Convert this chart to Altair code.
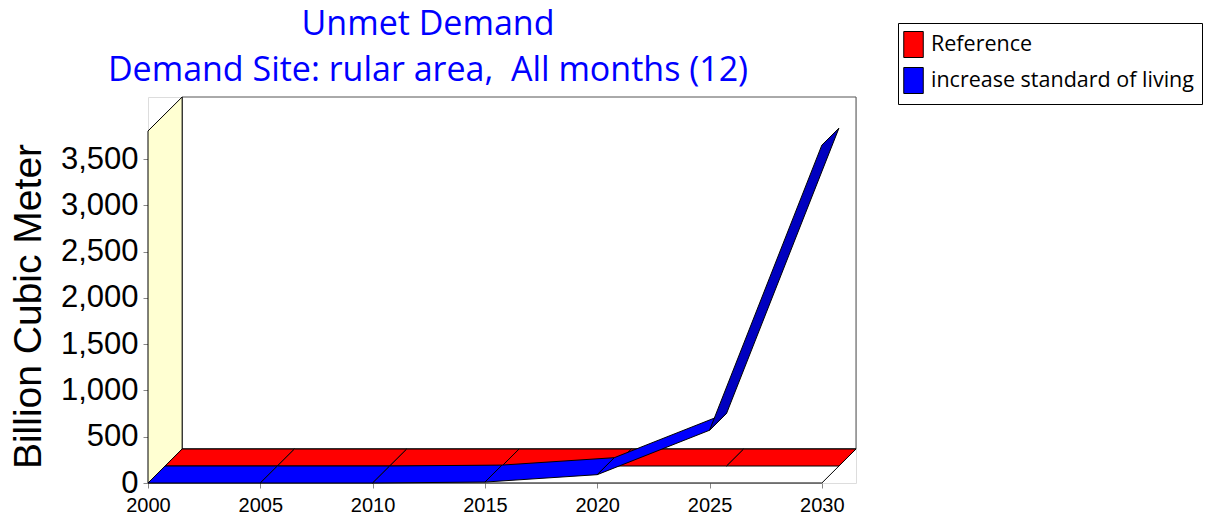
import altair as alt
import pandas as pd

# ---- data -------------------------------------------------------------
YEARS = [2000, 2005, 2010, 2015, 2020, 2025, 2030]
REFERENCE = [0, 0, 0, 0, 0, 0, 0]
INCREASE = [0, 0, 0, 10, 90, 570, 3650]
SERIES = ["Reference", "increase standard of living"]
SERIES_COLORS = ["#ff0000", "#0000ff"]
Y_TICKS = [0, 500, 1000, 1500, 2000, 2500, 3000, 3500]

# ---- oblique 3-D projection (depth axis expressed in data units) ------
DEPTH_X = 1.52      # years per unit of depth
DEPTH_Y = 367.0     # value units per unit of depth
Y_WALL = 3803.0     # height of the walls
UNDERSIDE = "#0000c0"
WALL_FILL = "#ffffd2"


def project(year, value, depth):
    return year + depth * DEPTH_X, value + depth * DEPTH_Y


rows = []


def add_poly(key, corners, fill, stroke):
    pts = corners + [corners[0]]
    for k, (yr, val, d) in enumerate(pts):
        px, py = project(yr, val, d)
        rows.append({"poly": key, "vertex": k, "x": px, "y": py,
                     "fill": fill, "stroke": stroke})


x0, x1 = YEARS[0], YEARS[-1]
add_poly("00_back", [(x0, 0, 1), (x1, 0, 1), (x1, Y_WALL, 1), (x0, Y_WALL, 1)],
         "#ffffff", "#555555")
add_poly("01_floor", [(x0, 0, 0), (x1, 0, 0), (x1, 0, 1), (x0, 0, 1)],
         "#ffffff", "#000000")
add_poly("02_wall", [(x0, 0, 0), (x0, Y_WALL, 0), (x0, Y_WALL, 1), (x0, 0, 1)],
         WALL_FILL, "#000000")
frame = pd.DataFrame(rows)

# ribbons: each series occupies one half of the depth
rows = []
ribbons = [(SERIES[0], REFERENCE, 0.5, 1.0), (SERIES[1], INCREASE, 0.0, 0.5)]
for s, (name, vals, d0, d1) in enumerate(ribbons):
    for i in range(len(YEARS) - 1):
        xa, xb = YEARS[i], YEARS[i + 1]
        va, vb = vals[i], vals[i + 1]
        slope = (vb - va) / (xb - xa)
        # faces rising steeper than the depth direction show their underside
        face = "underside" if slope > DEPTH_Y / DEPTH_X else name
        corners = [(xa, va, d0), (xb, vb, d0), (xb, vb, d1), (xa, va, d1)]
        pts = corners + [corners[0]]
        for k, (yr, val, d) in enumerate(pts):
            px, py = project(yr, val, d)
            rows.append({"poly": f"{s}_{i:02d}", "vertex": k, "x": px, "y": py,
                         "face": face})
ribbon = pd.DataFrame(rows)

x_scale = alt.Scale(domain=[x0, x1 + DEPTH_X], nice=False, zero=False)
y_scale = alt.Scale(domain=[0, Y_WALL + DEPTH_Y], nice=False)

x_axis = alt.Axis(values=YEARS, format="d", domain=False, grid=False, title=None,
                  labelFont="Liberation Sans", labelFontSize=20, labelColor="black",
                  labelPadding=7, tickSize=5, tickColor="#888888",
                  labelFlush=False, labelOverlap=False)
y_axis = alt.Axis(values=Y_TICKS, format=",d", domain=False, grid=False,
                  title="Billion Cubic Meter", titleFont="Liberation Sans",
                  titleFontSize=39, titleFontWeight="normal", titleColor="black",
                  titleX=-120, titleY=209, titleAngle=-90, titleAlign="center",
                  titleBaseline="middle",
                  labelFont="Liberation Sans", labelFontSize=31, labelColor="black",
                  labelPadding=5, tickSize=5, tickColor="#888888",
                  labelFlush=False, labelOverlap=False)

frame_layer = alt.Chart(frame).mark_line(strokeWidth=1).encode(
    x=alt.X("x:Q", scale=x_scale, axis=x_axis),
    y=alt.Y("y:Q", scale=y_scale, axis=y_axis),
    detail="poly:N",
    order=alt.Order("vertex:Q"),
    fill=alt.Fill("fill:N", scale=None),
    stroke=alt.Stroke("stroke:N", scale=None),
)

ribbon_layer = alt.Chart(ribbon).mark_line(strokeWidth=1, stroke="black").encode(
    x=alt.X("x:Q", scale=x_scale),
    y=alt.Y("y:Q", scale=y_scale),
    detail="poly:N",
    order=alt.Order("vertex:Q"),
    fill=alt.Fill("face:N",
                  scale=alt.Scale(domain=SERIES + ["underside"],
                                  range=SERIES_COLORS + [UNDERSIDE]),
                  legend=alt.Legend(title=None, orient="none", legendX=750, legendY=-74,
                                    values=SERIES,
                                    symbolType="M-0.75,-1H0.75V1H-0.75Z",
                                    symbolSize=676, symbolStrokeColor="black",
                                    symbolStrokeWidth=1, symbolOpacity=1,
                                    symbolOffset=-6,
                                    labelFont="Open Sans", labelFontSize=21.5,
                                    labelColor="black", labelOffset=4, labelLimit=400,
                                    strokeColor="black", fillColor="white",
                                    padding=8, rowPadding=5)),
)

chart = alt.layer(frame_layer, ribbon_layer).properties(
    width=708,
    height=386,
    autosize="none",
    padding={"left": 148, "top": 97, "right": 353, "bottom": 38},
    title=alt.TitleParams(
        text=["Unmet Demand", "Demand Site: rular area,\u00a0 All months (12)"],
        font="Open Sans", fontSize=34, fontWeight="normal", color="#0000ff",
        anchor="middle", frame="group", dx=-74, dy=73, offset=8, lineHeight=46,
    ),
).configure_view(stroke=None).configure(background="white")

chart.save("out.html", embed_options={"renderer": "svg", "actions": False})
